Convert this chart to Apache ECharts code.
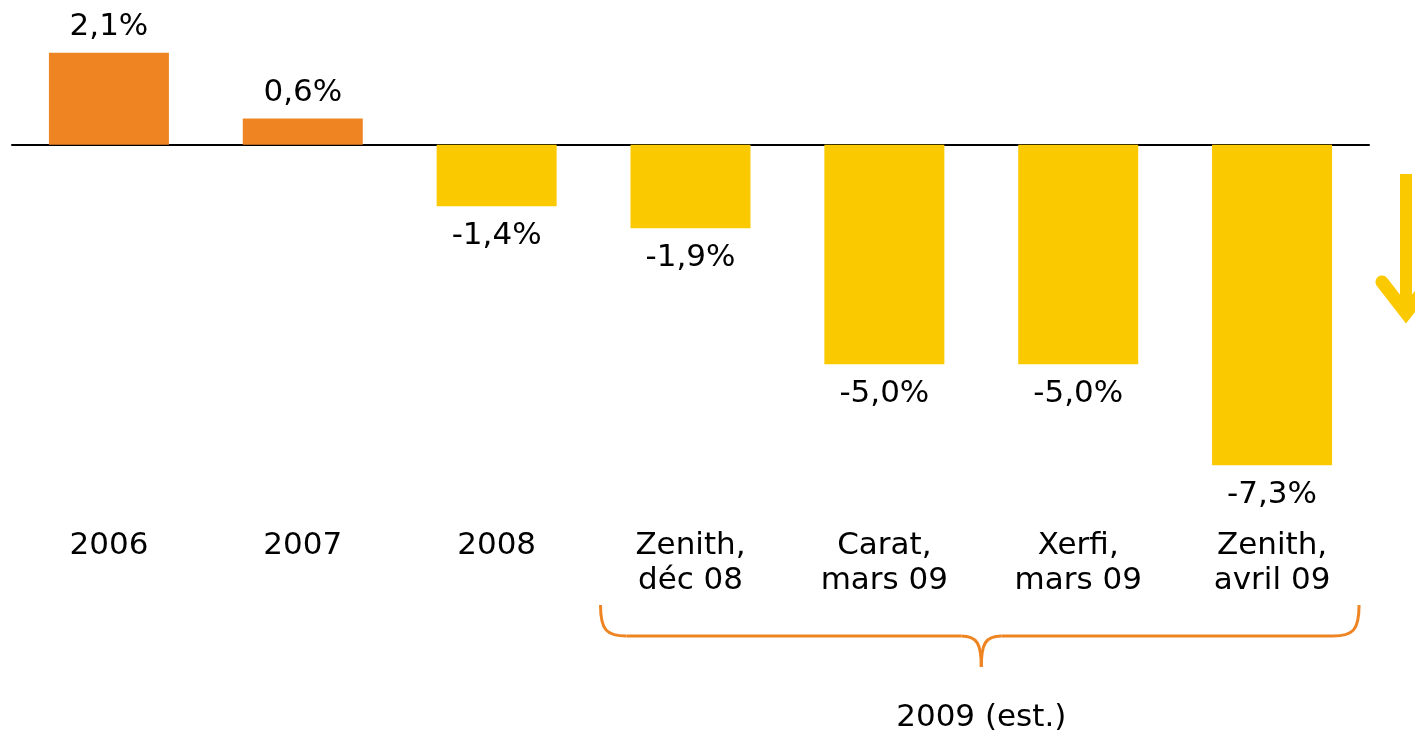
<!DOCTYPE html>
<html>
<head>
<meta charset="utf-8">
<script src="https://cdn.jsdelivr.net/npm/echarts@6/dist/echarts.min.js"></script>
<style>
  html, body { margin: 0; padding: 0; background: #fff; }
  #main { width: 1415px; height: 736px; }
</style>
</head>
<body>
<div id="main"></div>
<script>
// categories & values (croissance du marché publicitaire)
let categories = ['2006', '2007', '2008', 'Zenith,\ndéc 08', 'Carat,\nmars 09', 'Xerfi,\nmars 09', 'Zenith,\navril 09'];
let values = [2.1, 0.6, -1.4, -1.9, -5.0, -5.0, -7.3];
let groupLabel = '2009 (est.)';
let groupFrom = 3, groupTo = 6;

var FONT = '"DejaVu Sans", Verdana, sans-serif';
var ORANGE = '#EE8522';
var YELLOW = '#FAC900';

var chart = echarts.init(document.getElementById('main'));

function fmt(v) {
    return v.toFixed(1).replace('.', ',') + '%';
}

let barData = values.map(function (v) {
    return {
        value: v,
        itemStyle: { color: v >= 0 ? ORANGE : YELLOW },
        label: { position: v >= 0 ? 'top' : 'bottom', distance: v >= 0 ? 10 : 14 }
    };
});

option = {
    animation: false,
    grid: { left: 12, right: 46, top: 0, bottom: 240, containLabel: false },
    xAxis: [
        {
            // ligne du zéro
            type: 'category',
            data: categories,
            axisLine: { onZero: true, lineStyle: { color: '#000', width: 2 } },
            axisTick: { show: false },
            axisLabel: { show: false }
        },
        {
            type: 'category',
            data: categories,
            position: 'bottom',
            axisLine: { show: false, onZero: false },
            axisTick: { show: false },
            axisLabel: {
                margin: 32,
                fontFamily: FONT,
                fontSize: 31,
                lineHeight: 35,
                color: '#000',
                interval: 0
            }
        }
    ],
    yAxis: {
        type: 'value',
        min: -8,
        max: 3.3,
        show: false,
        splitLine: { show: false }
    },
    series: [
        {
            type: 'bar',
            xAxisIndex: 0,
            barWidth: 120,
            data: barData,
            label: {
                show: true,
                fontFamily: FONT,
                fontSize: 31,
                color: '#000',
                formatter: function (p) { return fmt(p.value); }
            }
        }
    ]
};

chart.setOption(option);

// accolade + flèche
let xa = chart.convertToPixel({ xAxisIndex: 0 }, groupFrom);
let xb = chart.convertToPixel({ xAxisIndex: 0 }, groupTo);
let x1 = xa - 90, x2 = xb + 87, xm = (xa + xb) / 2;
let yEnd = 605, yBar = 636, yTip = 667;
let braceStyle = { fill: null, stroke: ORANGE, lineWidth: 3 };

chart.setOption({
    graphic: [
        {
            type: 'bezierCurve',
            shape: { x1: x1, y1: yEnd, x2: x1 + 26, y2: yBar, cpx1: x1, cpy1: yBar - 6, cpx2: x1 + 6, cpy2: yBar },
            style: braceStyle
        },
        {
            type: 'line',
            shape: { x1: x1 + 26, y1: yBar, x2: xm - 20, y2: yBar },
            style: braceStyle
        },
        {
            type: 'bezierCurve',
            shape: { x1: xm - 20, y1: yBar, x2: xm, y2: yTip, cpx1: xm - 4, cpy1: yBar, cpx2: xm, cpy2: yBar + 8 },
            style: braceStyle
        },
        {
            type: 'bezierCurve',
            shape: { x1: x2, y1: yEnd, x2: x2 - 26, y2: yBar, cpx1: x2, cpy1: yBar - 6, cpx2: x2 - 6, cpy2: yBar },
            style: braceStyle
        },
        {
            type: 'line',
            shape: { x1: x2 - 26, y1: yBar, x2: xm + 20, y2: yBar },
            style: braceStyle
        },
        {
            type: 'bezierCurve',
            shape: { x1: xm + 20, y1: yBar, x2: xm, y2: yTip, cpx1: xm + 4, cpy1: yBar, cpx2: xm, cpy2: yBar + 8 },
            style: braceStyle
        },
        {
            type: 'text',
            x: xm,
            y: 718,
            style: {
                text: groupLabel,
                fontFamily: FONT,
                fontSize: 31,
                fill: '#000',
                align: 'center',
                verticalAlign: 'middle'
            }
        },
        {
            type: 'line',
            shape: { x1: 1406, y1: 174, x2: 1406, y2: 312 },
            style: { stroke: YELLOW, lineWidth: 12 }
        },
        {
            type: 'polyline',
            shape: { points: [[1382, 282], [1406, 313], [1430, 282]] },
            style: { stroke: YELLOW, lineWidth: 13, lineCap: 'round', lineJoin: 'miter', fill: null }
        }
    ]
});
</script>
</body>
</html>
